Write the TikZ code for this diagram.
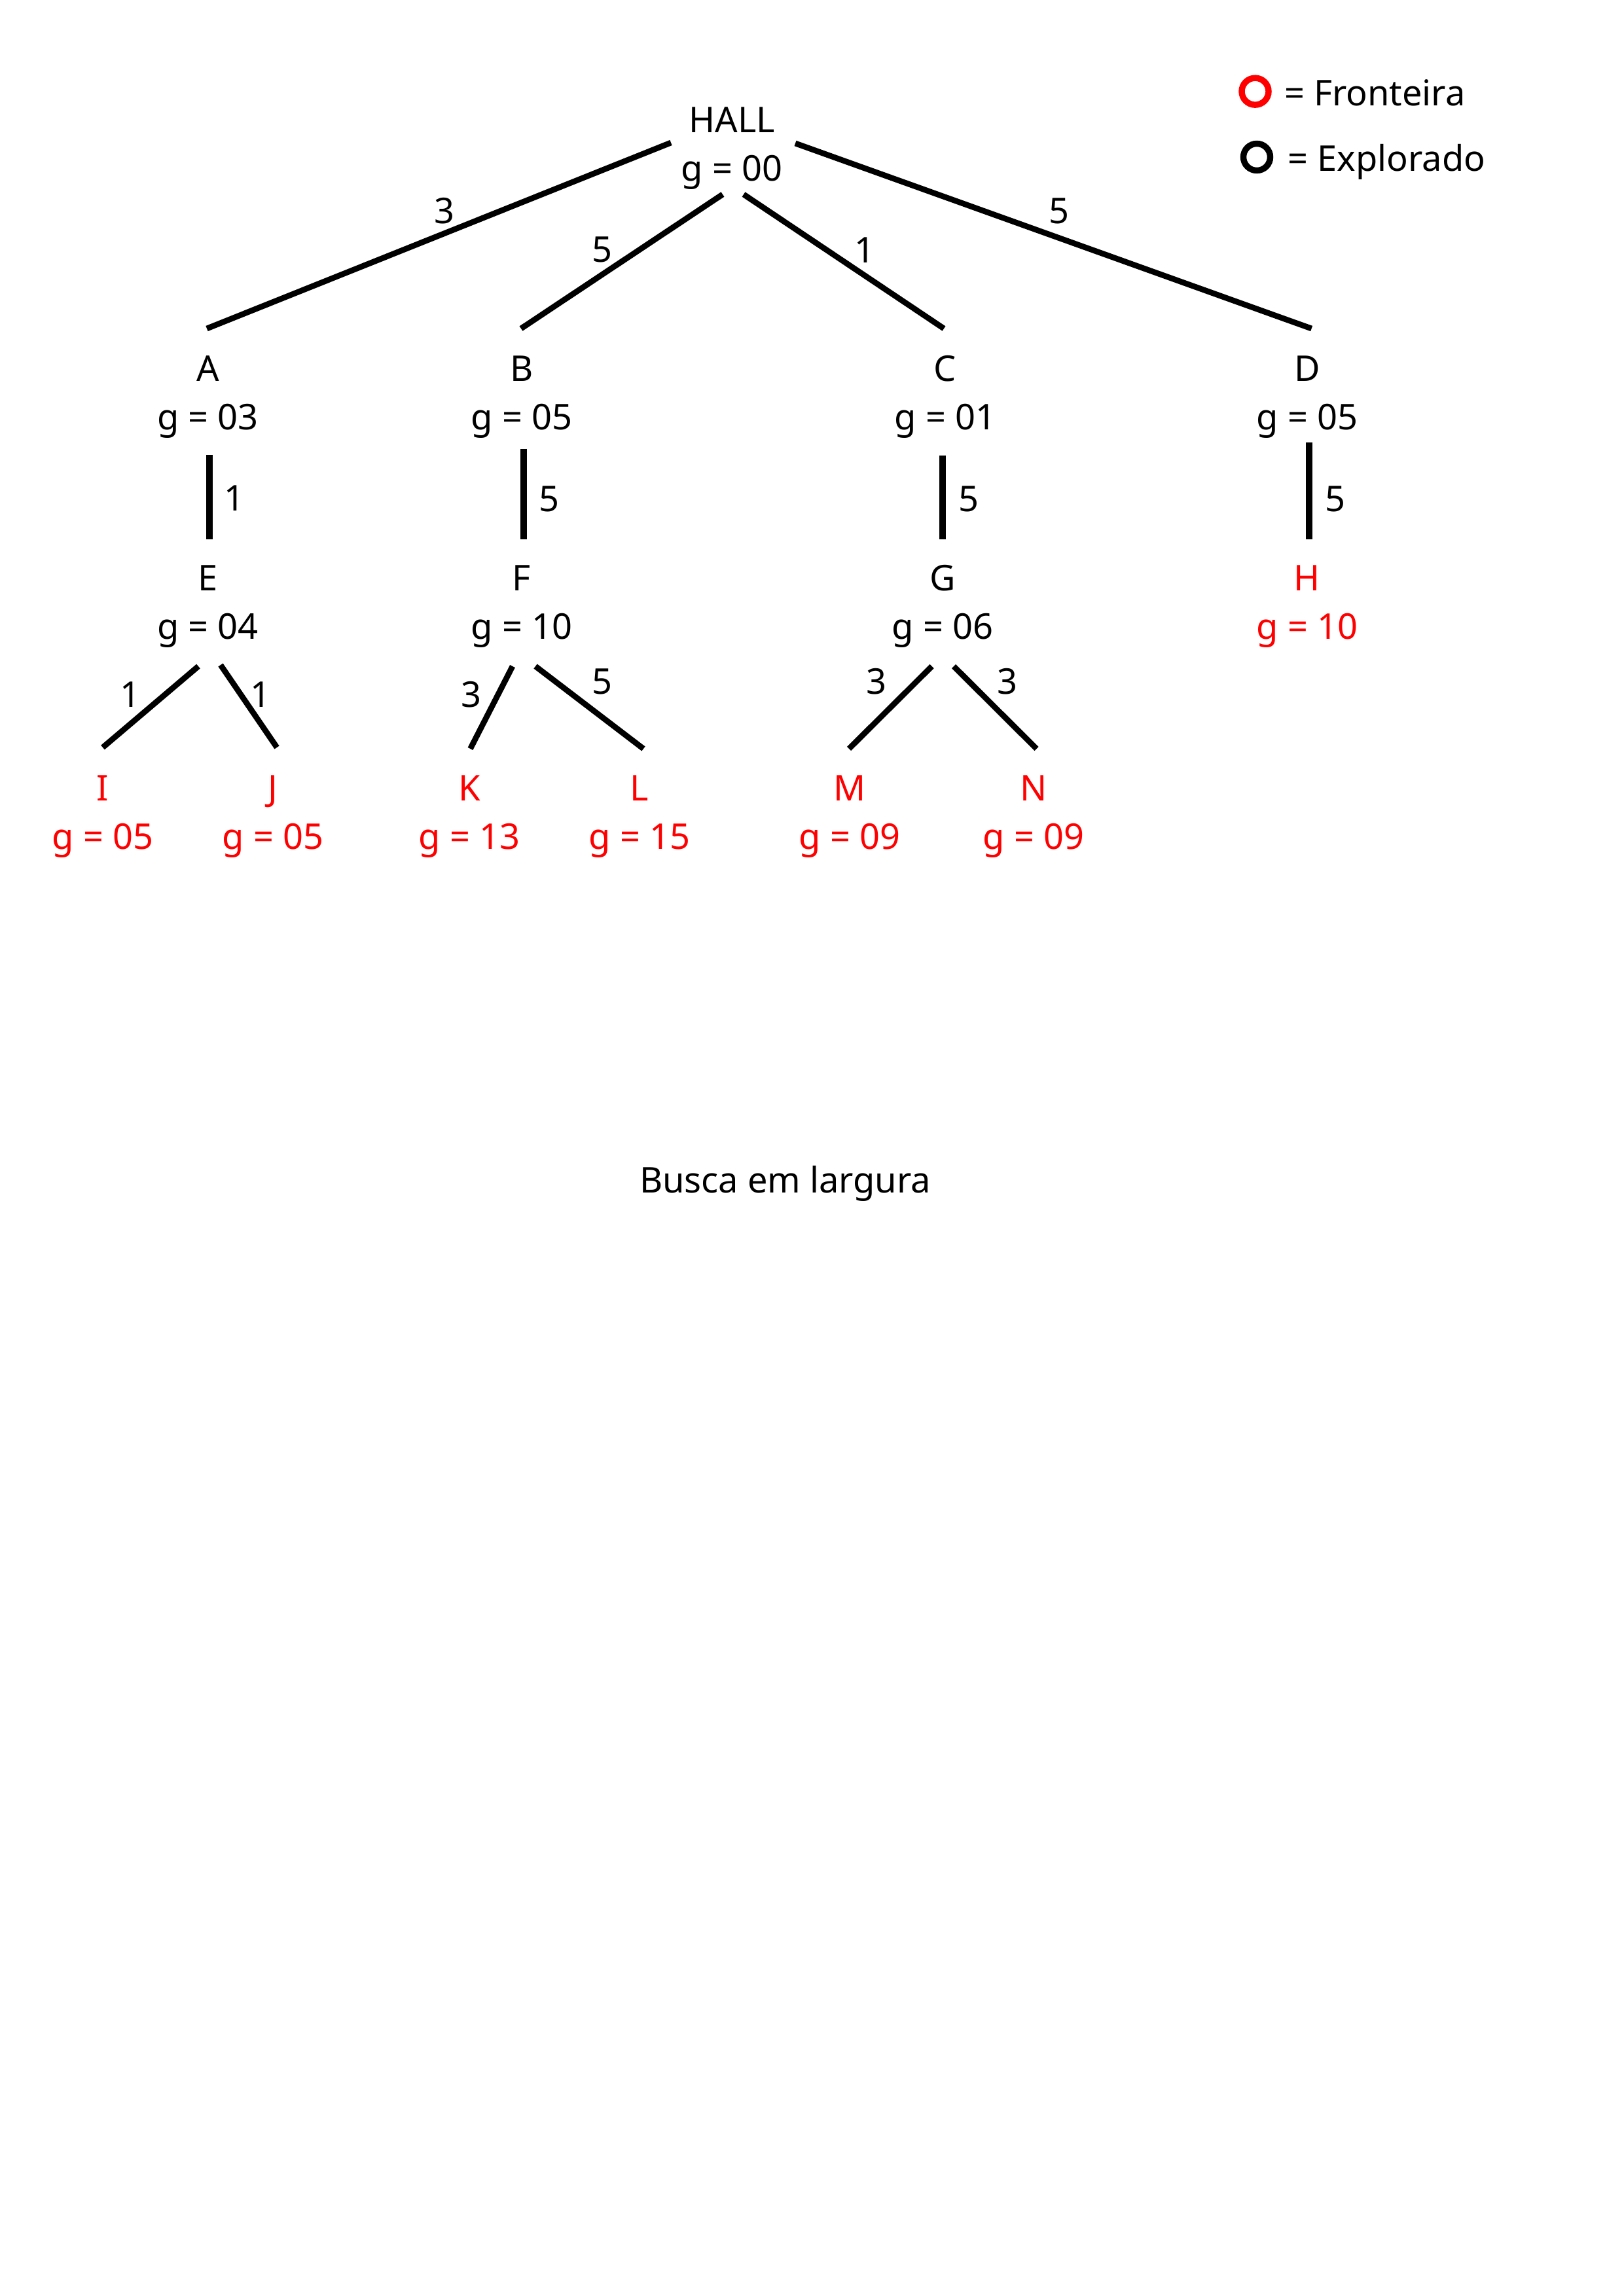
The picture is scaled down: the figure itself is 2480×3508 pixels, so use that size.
\documentclass[tikz,border=0pt]{standalone}
\usepackage{fontspec}
\setmainfont{Noto Sans}
\usetikzlibrary{calc}
\definecolor{frontred}{RGB}{255,0,0}
\begin{document}
\begin{tikzpicture}[x=0.24pt,y=-0.24pt,
  txt/.style={font=\fontsize{13}{16}\selectfont, inner sep=0pt, outer sep=0pt, anchor=base},
  fr/.style={txt, text=frontred},
  wt/.style={font=\fontsize{13}{16}\selectfont, inner sep=0pt, outer sep=0pt, anchor=center},
  edge/.style={line width=2.1pt, line cap=butt},
  vedge/.style={line width=2.4pt, line cap=butt},
  legmark/.style={circle, inner sep=0pt, minimum size=9.84pt, line width=2.26pt}]
\useasboundingbox (0,0) rectangle (2480,3508);

% legend
\node[legmark, draw=frontred] (fmark) at (1917.5,139.7) {};
\node[txt, anchor=base west] (ftxt) at (1962,161.7) {= Fronteira};
\node[legmark, draw=black] (emark) at (1920,240) {};
\node[txt, anchor=base west] (etxt) at (1967.5,261.7) {= Explorado};

% level 0
\node[txt] (hall) at (1118,203) {HALL};
\node[txt] (hallg) at (1118,277) {g = 00};

% level 1
\node[txt] (nA) at (317.5,583) {A};
\node[txt] (nAg) at (317.5,657) {g = 03};
\node[txt] (nB) at (797,583) {B};
\node[txt] (nBg) at (797,657) {g = 05};
\node[txt] (nC) at (1444,583) {C};
\node[txt] (nCg) at (1444,657) {g = 01};
\node[txt] (nD) at (1997,583) {D};
\node[txt] (nDg) at (1997,657) {g = 05};

% level 2
\node[txt] (nE) at (317.5,903) {E};
\node[txt] (nEg) at (317.5,977) {g = 04};
\node[txt] (nF) at (797,903) {F};
\node[txt] (nFg) at (797,977) {g = 10};
\node[txt] (nG) at (1440,903) {G};
\node[txt] (nGg) at (1440,977) {g = 06};
\node[fr] (nH) at (1997,903) {H};
\node[fr] (nHg) at (1997,977) {g = 10};

% level 3
\node[fr] (nI) at (157,1223) {I};
\node[fr] (nIg) at (157,1297) {g = 05};
\node[fr] (nJ) at (417,1223) {J};
\node[fr] (nJg) at (417,1297) {g = 05};
\node[fr] (nK) at (717,1223) {K};
\node[fr] (nKg) at (717,1297) {g = 13};
\node[fr] (nL) at (977,1223) {L};
\node[fr] (nLg) at (977,1297) {g = 15};
\node[fr] (nM) at (1298,1223) {M};
\node[fr] (nMg) at (1298,1297) {g = 09};
\node[fr] (nN) at (1579,1223) {N};
\node[fr] (nNg) at (1579,1297) {g = 09};

% title
\node[txt] (title) at (1199.5,1822) {Busca em largura};

% edges level 0 -> 1
\draw[edge] ($(hall.base)+(-93,15)$) -- ($(nA.base)+(-1.5,-81)$);
\draw[edge] ($(hallg.base)+(-14,20)$) -- ($(nB.base)+(-1,-81)$);
\draw[edge] ($(hallg.base)+(18,20)$) -- ($(nC.base)+(-2,-81)$);
\draw[edge] ($(hall.base)+(97,16)$) -- ($(nD.base)+(6.6,-81)$);

% edges level 1 -> 2
\draw[vedge] ($(nAg.base)+(2.5,38)$) -- ($(nE.base)+(2.5,-79)$);
\draw[vedge] ($(nBg.base)+(3,29)$) -- ($(nF.base)+(3,-79)$);
\draw[vedge] ($(nCg.base)+(-4,39)$) -- ($(nG.base)+(0,-79)$);
\draw[vedge] ($(nDg.base)+(3,19)$) -- ($(nH.base)+(3,-79)$);

% edges level 2 -> 3
\draw[edge] ($(nEg.base)+(-14.5,41)$) -- ($(nI.base)+(0,-81)$);
\draw[edge] ($(nEg.base)+(19.5,39)$) -- ($(nJ.base)+(6,-81)$);
\draw[edge] ($(nFg.base)+(-14,41)$) -- ($(nK.base)+(1.5,-79)$);
\draw[edge] ($(nFg.base)+(21,41)$) -- ($(nL.base)+(6,-79)$);
\draw[edge] ($(nGg.base)+(-16.4,41)$) -- ($(nM.base)+(-1,-79)$);
\draw[edge] ($(nGg.base)+(17,41)$) -- ($(nN.base)+(4.5,-79)$);

% weights
\node[wt] (wHA) at (679,322) {3};
\node[wt] (wHB) at (920,381) {5};
\node[wt] (wHC) at (1321,382) {1};
\node[wt] (wHD) at (1618,322) {5};
\node[wt] (wAE) at (358,761) {1};
\node[wt] (wBF) at (839,762) {5};
\node[wt] (wCG) at (1480,762) {5};
\node[wt] (wDH) at (2039.5,762) {5};
\node[wt] (wEI) at (199,1061) {1};
\node[wt] (wEJ) at (398,1061) {1};
\node[wt] (wFK) at (720,1061.5) {3};
\node[wt] (wFL) at (920,1041.5) {5};
\node[wt] (wGM) at (1339.4,1041.5) {3};
\node[wt] (wGN) at (1539.3,1041.5) {3};
\end{tikzpicture}
\end{document}
